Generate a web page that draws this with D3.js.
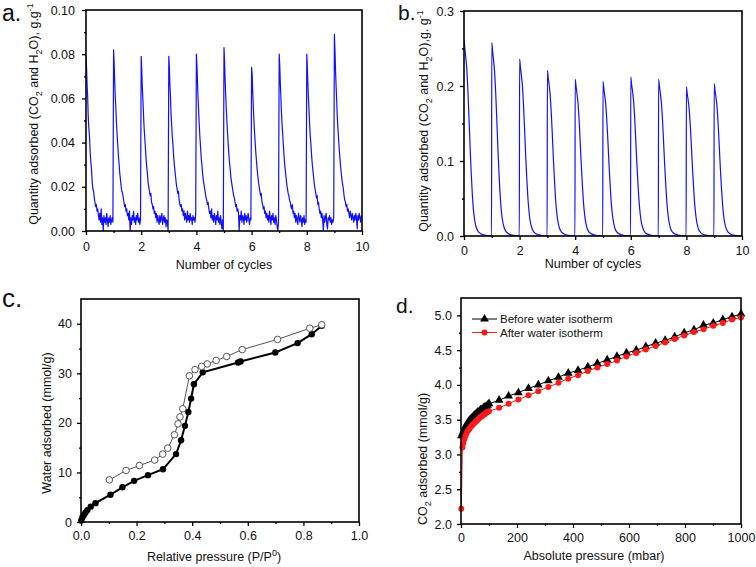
<!DOCTYPE html>
<html><head><meta charset="utf-8">
<script src="https://cdn.jsdelivr.net/npm/d3@7"></script>
<style>
html,body{margin:0;padding:0;background:#fff;}
svg{display:block;font-family:"Liberation Sans",Arial,sans-serif;}
</style></head>
<body>
<svg id="chart" width="756" height="567"></svg>
<script>
// ---------- Panel a: cyclic adsorption (noisy) ----------
const aOffsets = [0,0.02,0.04,0.06,0.08,0.1,0.125,0.15,0.175,0.2,0.225,0.25,0.275,0.3,0.325,0.35,0.375,0.4,0.425,0.45,0.475,0.5,0.525,0.55,0.575,0.6,0.625,0.65,0.675,0.7,0.725,0.75,0.775,0.8,0.825,0.85,0.875,0.9,0.925,0.95,0.975];
const aCycle0 = [.079,.074,.066,.061,.052,.047,.043,.036,.031,.028,.022,.019,.018,.015,.013,.011,.012,.009,.010,.007,.005,.008,.004,.010,.003,.006,.000,.007,.004,.006,.003,.008,.005,.002,.006,.004,.007,.003,.005,.006,.004];
const aCycle1 = [.082,.076,.068,.061,.056,.050,.044,.039,.034,.030,.026,.023,.020,.018,.017,.015,.013,.011,.012,.009,.010,.007,.008,.005,.009,.000,.006,.003,.007,.005,.009,.004,.006,.003,.007,.005,.008,.004,.006,.003,.005];
const aCycle2 = [.079,.073,.065,.060,.054,.048,.043,.038,.033,.029,.026,.022,.020,.018,.016,.017,.013,.012,.010,.011,.008,.009,.006,.008,.004,.007,.005,.003,.007,.004,.006,.008,.003,.005,.007,.004,.006,.002,.005,.004,.000];
const aCycle3 = [.079,.074,.066,.061,.053,.049,.043,.039,.034,.030,.027,.024,.021,.019,.017,.018,.014,.012,.011,.012,.009,.010,.007,.009,.005,.008,.006,.004,.009,.005,.007,.004,.008,.005,.006,.003,.007,.005,.006,.004,.008];
const aCycle4 = [.080,.075,.067,.060,.055,.049,.043,.038,.033,.030,.026,.023,.021,.019,.017,.015,.014,.012,.013,.010,.008,.009,.006,.010,.005,.007,.004,.008,.006,.003,.007,.005,.009,.004,.006,.003,.007,.004,.001,.005,.000];
const aCycle5 = [.083,.077,.069,.062,.056,.051,.045,.040,.035,.031,.028,.024,.022,.020,.018,.016,.015,.013,.011,.012,.009,.010,.008,.000,.007,.005,.009,.004,.007,.006,.003,.008,.005,.007,.004,.006,.008,.005,.003,.006,.005];
const aCycle6 = [.074,.071,.063,.057,.051,.046,.041,.036,.032,.028,.025,.022,.020,.018,.016,.017,.013,.012,.010,.011,.008,.009,.006,.008,.005,.007,.004,.009,.006,.003,.007,.005,.008,.004,.006,.003,.007,.005,.002,.000,.004];
const aCycle7 = [.080,.075,.067,.061,.054,.049,.044,.039,.034,.030,.027,.024,.021,.019,.017,.016,.014,.013,.011,.010,.012,.008,.009,.006,.008,.004,.007,.005,.003,.008,.006,.004,.007,.005,.002,.006,.004,.007,.003,.005,.004];
const aCycle8 = [.080,.074,.066,.060,.055,.049,.043,.039,.034,.030,.027,.024,.021,.019,.017,.015,.016,.012,.013,.010,.008,.009,.006,.008,.005,.000,.007,.004,.006,.008,.003,.001,.006,.005,.007,.004,.006,.003,.005,.004,.006];
const aCycle9 = [.089,.082,.073,.066,.060,.053,.047,.042,.037,.033,.029,.026,.023,.021,.019,.016,.014,.013,.011,.012,.009,.010,.008,.006,.009,.007,.005,.008,.006,.004,.007,.005,.008,.006,.001,.007,.005,.008,.006,.004,.007];
const aCycles = [aCycle0,aCycle1,aCycle2,aCycle3,aCycle4,aCycle5,aCycle6,aCycle7,aCycle8,aCycle9];
const aXTicks = [0,2,4,6,8,10];
const aXMinor = [1,3,5,7,9];
const aYTicks = [0,0.02,0.04,0.06,0.08,0.10];
const aYMinor = [0.01,0.03,0.05,0.07,0.09];

// ---------- Panel b: cyclic adsorption (smooth) ----------
const bOffsets = [0,0.03,0.07,0.1,0.14,0.18,0.22,0.26,0.3,0.34,0.38,0.43,0.5,0.6,0.7,0.8,0.9,0.99];
const bCycle0 = [.262,.250,.236,.223,.194,.157,.118,.084,.055,.035,.022,.013,.0066,.0031,.0016,.0008,.0003,0];
const bCycle1 = [.258,.246,.232,.219,.191,.155,.116,.083,.054,.035,.022,.013,.0065,.0031,.0015,.0008,.0003,0];
const bCycle2 = [.236,.225,.212,.201,.175,.142,.106,.076,.050,.032,.020,.012,.006,.0028,.0014,.0007,.0002,0];
const bCycle3 = [.221,.211,.199,.188,.164,.133,.099,.071,.046,.030,.019,.011,.0055,.0027,.0013,.0007,.0002,0];
const bCycle4 = [.209,.200,.188,.178,.155,.125,.094,.067,.044,.028,.018,.010,.0052,.0025,.0013,.0006,.0002,0];
const bCycle5 = [.206,.197,.185,.175,.152,.124,.093,.066,.043,.028,.018,.010,.0052,.0025,.0012,.0006,.0002,0];
const bCycle6 = [.212,.202,.191,.180,.157,.127,.095,.068,.045,.029,.018,.011,.0053,.0025,.0013,.0006,.0002,0];
const bCycle7 = [.209,.200,.188,.178,.155,.125,.094,.067,.044,.028,.018,.010,.0052,.0025,.0013,.0006,.0002,0];
const bCycle8 = [.199,.190,.179,.169,.147,.119,.090,.064,.042,.027,.017,.010,.005,.0024,.0012,.0006,.0002,0];
const bCycle9 = [.203,.194,.183,.173,.150,.122,.091,.065,.043,.027,.017,.010,.0051,.0024,.0012,.0006,.0002,0];
const bCycles = [bCycle0,bCycle1,bCycle2,bCycle3,bCycle4,bCycle5,bCycle6,bCycle7,bCycle8,bCycle9];
const bXTicks = [0,2,4,6,8,10];
const bXMinor = [1,3,5,7,9];
const bYTicks = [0,0.1,0.2,0.3];
const bYMinor = [0.05,0.15,0.25];

// ---------- Panel c: water isotherm ----------
const cAdsX = [0.001,0.005,0.010,0.016,0.023,0.035,0.052,0.106,0.149,0.191,0.241,0.295,0.342,0.360,0.374,0.386,0.396,0.406,0.438,0.565,0.574,0.699,0.779,0.830,0.866];
const cAdsY = [0.3,0.9,1.4,1.9,2.4,3.1,3.8,5.5,7.0,8.3,9.45,10.65,13.7,16.5,19.4,22.2,24.9,27.8,30.2,32.2,32.4,34.2,36.1,37.9,39.6];
const cDesX = [0.866,0.823,0.707,0.580,0.524,0.486,0.454,0.434,0.410,0.390,0.366,0.356,0.349,0.336,0.312,0.294,0.265,0.210,0.162,0.102];
const cDesY = [39.8,39.1,36.85,34.8,33.4,32.6,31.9,31.4,30.75,29.5,22.85,21.2,19.8,17.6,14.9,13.7,12.5,11.4,10.4,8.5];
const cXTicks = [0,0.2,0.4,0.6,0.8,1.0];
const cXMinor = [0.1,0.3,0.5,0.7,0.9];
const cYTicks = [0,10,20,30,40];
const cYMinor = [5,15,25,35];

// ---------- Panel d: CO2 isotherms ----------
const dBeforeP = [2,6,10,15,20,25,30,35,40,45,50,55,60,65,70,75,80,85,90,95,100,136,170,205,241,276,312,348,383,418,453,487,522,557,591,626,660,695,729,763,797,832,866,901,935,968,1000];
const dBeforeQ = [3.27,3.31,3.35,3.39,3.43,3.46,3.49,3.51,3.53,3.55,3.57,3.59,3.61,3.62,3.64,3.65,3.67,3.68,3.69,3.71,3.73,3.78,3.84,3.89,3.95,4.00,4.06,4.11,4.17,4.21,4.26,4.31,4.36,4.41,4.46,4.50,4.55,4.60,4.64,4.69,4.75,4.79,4.86,4.89,4.94,4.98,5.02];
const dAfterP = [1,5,8,12,16,20,25,30,35,40,45,50,55,60,65,70,75,80,85,90,95,100,136,170,205,241,276,312,348,383,418,453,487,522,557,591,626,660,695,729,763,797,832,866,901,935,968,1000];
const dAfterQ = [2.22,3.10,3.16,3.22,3.27,3.31,3.34,3.37,3.40,3.42,3.44,3.46,3.48,3.50,3.52,3.54,3.55,3.57,3.58,3.60,3.61,3.62,3.67,3.73,3.79,3.85,3.91,3.97,4.03,4.09,4.14,4.20,4.25,4.30,4.35,4.41,4.46,4.51,4.56,4.61,4.66,4.71,4.76,4.80,4.85,4.89,4.94,4.97];
const dSeriesNames = ["Before water isotherm","After water isotherm"];
const dXTicks = [0,200,400,600,800,1000];
const dXMinor = [100,300,500,700,900];
const dYTicks = [2.0,2.5,3.0,3.5,4.0,4.5,5.0];
const dYMinor = [2.25,2.75,3.25,3.75,4.25,4.75];

// ---------- drawing ----------
const svg = d3.select("#chart");
const FS = 12.5;

function panel(c) {
  const x = d3.scaleLinear().domain(c.xDom).range([c.x0, c.x1]);
  const y = d3.scaleLinear().domain(c.yDom).range([c.y1, c.y0]);
  const g = svg.append("g");
  const mk = (axis, vals, size, fmt, tr) => {
    const a = g.append("g").attr("transform", tr)
      .call(axis.tickValues(vals).tickSize(size).tickPadding(c.pad || 6).tickFormat(fmt));
    a.select(".domain").remove();
    a.selectAll("line").attr("stroke", "#000").attr("stroke-width", 1.3);
    a.selectAll("text").attr("font-size", FS).attr("fill", "#111")
      .attr("font-family", '"Liberation Sans",Arial,sans-serif');
    return a;
  };
  mk(d3.axisBottom(x), c.xMajor, 4, c.xFmt, `translate(0,${c.y1})`);
  mk(d3.axisBottom(x), c.xMinor, 2, () => "", `translate(0,${c.y1})`);
  mk(d3.axisLeft(y), c.yMajor, 4, c.yFmt, `translate(${c.x0},0)`);
  mk(d3.axisLeft(y), c.yMinor, 2, () => "", `translate(${c.x0},0)`);
  const id = "clip" + Math.round(c.x0) + Math.round(c.y0);
  g.append("clipPath").attr("id", id).append("rect")
    .attr("x", c.x0).attr("y", c.y0).attr("width", c.x1 - c.x0).attr("height", c.y1 - c.y0);
  const data = g.append("g");
  if (c.clip) data.attr("clip-path", `url(#${id})`);
  g.append("rect").attr("x", c.x0).attr("y", c.y0).attr("width", c.x1 - c.x0).attr("height", c.y1 - c.y0)
    .attr("fill", "none").attr("stroke", "#000").attr("stroke-width", 1.6);
  return {g, data, x, y};
}

function rich(sel, parts, size) {
  let shift = 0;
  parts.forEach(p => {
    const t = sel.append("tspan").text(p.t);
    const target = p.s === "sub" ? 3.5 : p.s === "sup" ? -5 : 0;
    if (target !== shift) { t.attr("dy", target - shift); shift = target; }
    t.attr("font-size", p.s ? size * 0.72 : size);
  });
}

function yTitle(cx, cy, parts) {
  const t = svg.append("text").attr("transform", `translate(${cx},${cy}) rotate(-90)`)
    .attr("text-anchor", "middle").attr("fill", "#111");
  rich(t, parts, FS);
}
function xTitle(cx, by, parts) {
  const t = svg.append("text").attr("x", cx).attr("y", by).attr("text-anchor", "middle").attr("fill", "#111");
  rich(t, parts, FS);
}
function label(x, y, txt, size) {
  svg.append("text").attr("x", x).attr("y", y).attr("font-size", size).attr("fill", "#111").text(txt);
}

// Panel a
{
  const p = panel({x0:86, x1:362, y0:10, y1:231, xDom:[0,10], yDom:[0,0.10], clip:true,
    xMajor:aXTicks, xMinor:aXMinor, yMajor:aYTicks, yMinor:aYMinor,
    xFmt:d3.format("d"), yFmt:d3.format(".2f"), pad:7});
  const pts = [];
  aCycles.forEach((cyc, i) => cyc.forEach((v, j) => pts.push([i + aOffsets[j], v])));
  p.data.append("path").datum(pts).attr("fill", "none").attr("stroke", "#1010ff").attr("stroke-width", 1.2)
    .attr("stroke-linejoin", "round")
    .attr("d", d3.line().x(d => p.x(d[0])).y(d => p.y(d[1])));
  label(2, 21, "a.", 23);
  yTitle(38, 114, [{t:"Quantity adsorbed (CO"},{t:"2",s:"sub"},{t:" and H"},{t:"2",s:"sub"},{t:"O), g.g"},{t:"-1",s:"sup"}]);
  xTitle(224, 269, [{t:"Number of cycles"}]);
}
// Panel b
{
  const p = panel({x0:464, x1:742, y0:11, y1:236, xDom:[0,10], yDom:[0,0.3], clip:true,
    xMajor:bXTicks, xMinor:bXMinor, yMajor:bYTicks, yMinor:bYMinor,
    xFmt:d3.format("d"), yFmt:d3.format(".1f"), pad:6});
  const pts = [];
  bCycles.forEach((cyc, i) => cyc.forEach((v, j) => pts.push([i + bOffsets[j], v])));
  p.data.append("path").datum(pts).attr("fill", "none").attr("stroke", "#1010ff").attr("stroke-width", 1.2)
    .attr("d", d3.line().curve(d3.curveMonotoneX).x(d => p.x(d[0])).y(d => p.y(d[1])));
  label(398, 20, "b.", 21);
  yTitle(428, 121, [{t:"Quantity adsorbed (CO"},{t:"2",s:"sub"},{t:" and H"},{t:"2",s:"sub"},{t:"O),g. g"},{t:"-1",s:"sup"}]);
  xTitle(593, 268, [{t:"Number of cycles"}]);
}
// Panel c
{
  const p = panel({x0:81, x1:359, y0:299, y1:522, xDom:[0,1.0], yDom:[0,45],
    xMajor:cXTicks, xMinor:cXMinor, yMajor:cYTicks, yMinor:cYMinor,
    xFmt:d3.format(".1f"), yFmt:d3.format("d"), pad:5});
  const des = cDesX.map((v, i) => [v, cDesY[i]]);
  const ads = cAdsX.map((v, i) => [v, cAdsY[i]]);
  const line = d3.line().x(d => p.x(d[0])).y(d => p.y(d[1]));
  p.data.append("path").datum(des).attr("fill", "none").attr("stroke", "#555").attr("stroke-width", 1).attr("d", line);
  p.data.append("path").datum(ads).attr("fill", "none").attr("stroke", "#000").attr("stroke-width", 2).attr("d", line);
  p.data.selectAll(".ads").data(ads).enter().append("circle")
    .attr("cx", d => p.x(d[0])).attr("cy", d => p.y(d[1])).attr("r", 3.2).attr("fill", "#000");
  p.data.selectAll(".des").data(des).enter().append("circle")
    .attr("cx", d => p.x(d[0])).attr("cy", d => p.y(d[1])).attr("r", 3.3)
    .attr("fill", "#fff").attr("stroke", "#555").attr("stroke-width", 1);
  label(2, 307, "c.", 26);
  yTitle(51, 423, [{t:"Water adsorbed (mmol/g)"}]);
  xTitle(214, 561, [{t:"Relative pressure (P/P"},{t:"0",s:"sup"},{t:")"}]);
}
// Panel d
{
  const p = panel({x0:461, x1:741, y0:298, y1:524, xDom:[0,1000], yDom:[2.0,5.25],
    xMajor:dXTicks, xMinor:dXMinor, yMajor:dYTicks, yMinor:dYMinor,
    xFmt:d3.format("d"), yFmt:d3.format(".1f"), pad:5});
  const before = dBeforeP.map((v, i) => [v, dBeforeQ[i]]);
  const after = dAfterP.map((v, i) => [v, dAfterQ[i]]);
  const line = d3.line().x(d => p.x(d[0])).y(d => p.y(d[1]));
  const tri = d3.symbol().type(d3.symbolTriangle).size(34);
  p.data.append("path").datum(before).attr("fill", "none").attr("stroke", "#000").attr("stroke-width", 1).attr("d", line);
  p.data.selectAll(".bt").data(before).enter().append("path")
    .attr("transform", d => `translate(${p.x(d[0])},${p.y(d[1])})`).attr("d", tri).attr("fill", "#000");
  p.data.append("path").datum(after).attr("fill", "none").attr("stroke", "#ff1a1a").attr("stroke-width", 1).attr("d", line);
  p.data.selectAll(".ac").data(after).enter().append("circle")
    .attr("cx", d => p.x(d[0])).attr("cy", d => p.y(d[1])).attr("r", 3).attr("fill", "#ff1a1a");
  // legend
  const lg = svg.append("g");
  [0, 1].forEach(i => {
    const yy = 319 + i * 13.5;
    const col = i === 0 ? "#000" : "#ff1a1a";
    lg.append("line").attr("x1", 472).attr("x2", 497).attr("y1", yy).attr("y2", yy).attr("stroke", col).attr("stroke-width", 1);
    if (i === 0) lg.append("path").attr("transform", `translate(484.5,${yy})`).attr("d", tri).attr("fill", col);
    else lg.append("circle").attr("cx", 484.5).attr("cy", yy).attr("r", 3).attr("fill", col);
    lg.append("text").attr("x", 500).attr("y", yy + 4).attr("font-size", 11.5).attr("fill", "#111").text(dSeriesNames[i]);
  });
  label(396, 313, "d.", 21);
  yTitle(427, 459, [{t:"CO"},{t:"2",s:"sub"},{t:" adsorbed (mmol/g)"}]);
  xTitle(594, 560, [{t:"Absolute pressure (mbar)"}]);
}
</script>
</body></html>
